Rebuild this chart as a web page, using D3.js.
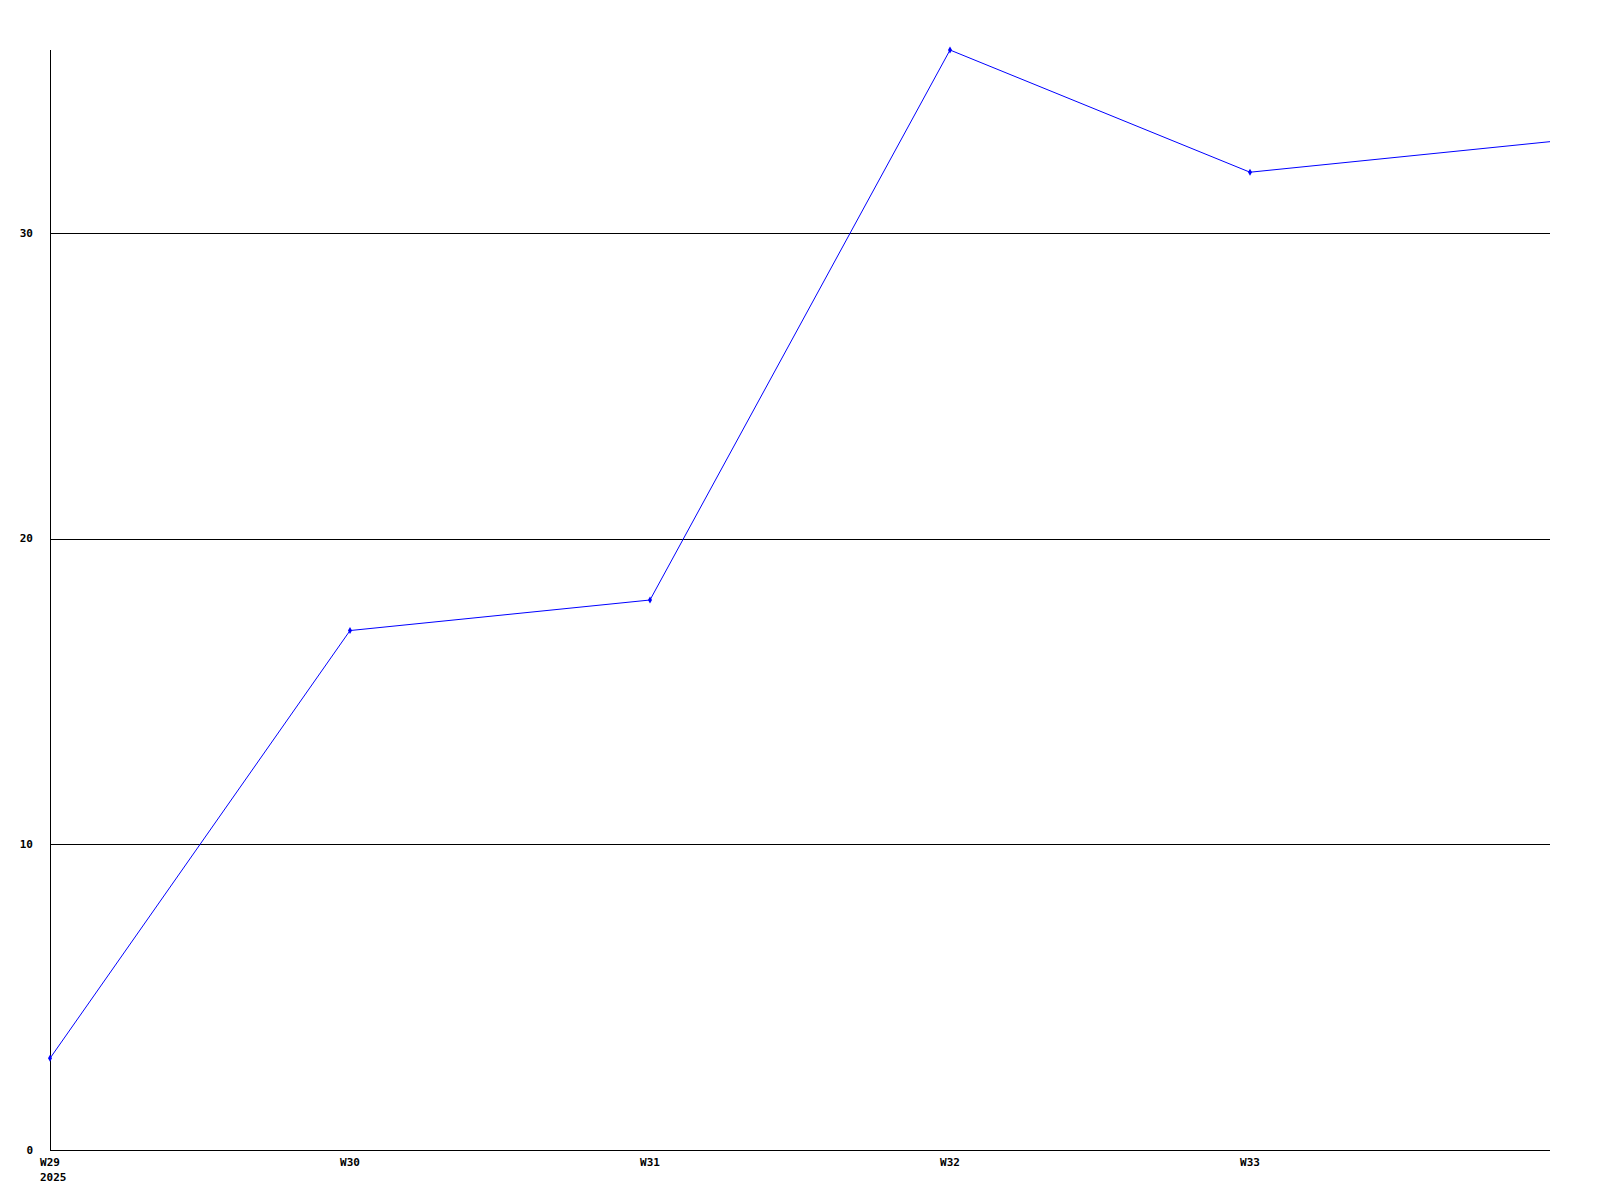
<!DOCTYPE html>
<html>
<head>
<meta charset="utf-8">
<script src="https://cdn.jsdelivr.net/npm/d3@7"></script>
<style>
  html, body { margin: 0; padding: 0; background: #fff; }
  svg { display: block; }
  text { font-family: "DejaVu Sans Mono", "Liberation Mono", monospace; font-weight: bold; font-size: 11px; fill: #000; }
</style>
</head>
<body>
<svg id="chart" width="1600" height="1200"></svg>
<script>
const weeks = [29, 30, 31, 32, 33, 34];
const values = [3, 17, 18, 36, 32, 33];
const xTickWeeks = [29, 30, 31, 32, 33];
const xTickLabels = ["W29", "W30", "W31", "W32", "W33"];
const yTicks = [0, 10, 20, 30];
const yearLabel = "2025";

(function () {
const svg = d3.select("#chart");
const mLeft = 50, mRight = 1550, mTop = 50, mBottom = 1150;

const x = d3.scaleLinear().domain([29, 34]).range([mLeft, mRight]);
const y = d3.scaleLinear().domain([0, 36]).range([mBottom, mTop]);

// gridlines
svg.append("g").selectAll("line").data(yTicks.filter(d => d > 0)).join("line")
  .attr("x1", mLeft).attr("x2", mRight)
  .attr("y1", d => Math.round(y(d)) + 0.5).attr("y2", d => Math.round(y(d)) + 0.5)
  .attr("stroke", "#000").attr("stroke-width", 1);

// axes lines
svg.append("line").attr("x1", mLeft + 0.5).attr("x2", mLeft + 0.5).attr("y1", mTop).attr("y2", mBottom + 0.5)
  .attr("stroke", "#000").attr("stroke-width", 1);
svg.append("line").attr("x1", mLeft).attr("x2", mRight).attr("y1", mBottom + 0.5).attr("y2", mBottom + 0.5)
  .attr("stroke", "#000").attr("stroke-width", 1);

// y labels
svg.append("g").selectAll("text").data(yTicks).join("text")
  .attr("x", 33).attr("y", d => y(d))
  .attr("text-anchor", "end").attr("dominant-baseline", "central")
  .text(d => d);

// x labels
svg.append("g").selectAll("text").data(xTickWeeks).join("text")
  .attr("x", d => x(d)).attr("y", 1162)
  .attr("text-anchor", "middle").attr("dominant-baseline", "central")
  .text((d, i) => xTickLabels[i]);
svg.append("text").attr("x", 40).attr("y", 1177)
  .attr("text-anchor", "start").attr("dominant-baseline", "central")
  .text(yearLabel);

// line
const data = weeks.map((w, i) => ({ w, v: values[i] }));
svg.append("path").datum(data)
  .attr("fill", "none").attr("stroke", "#0000ff").attr("stroke-width", 1)
  .attr("d", d3.line().x(d => x(d.w)).y(d => y(d.v)));

// markers (not on the last point at the edge)
svg.append("g").selectAll("path").data(data.slice(0, -1)).join("path")
  .attr("transform", d => `translate(${x(d.w)},${y(d.v)})`)
  .attr("d", d3.symbol(d3.symbolDiamond, 14)())
  .attr("fill", "#0000ff");
})();
</script>
</body>
</html>
